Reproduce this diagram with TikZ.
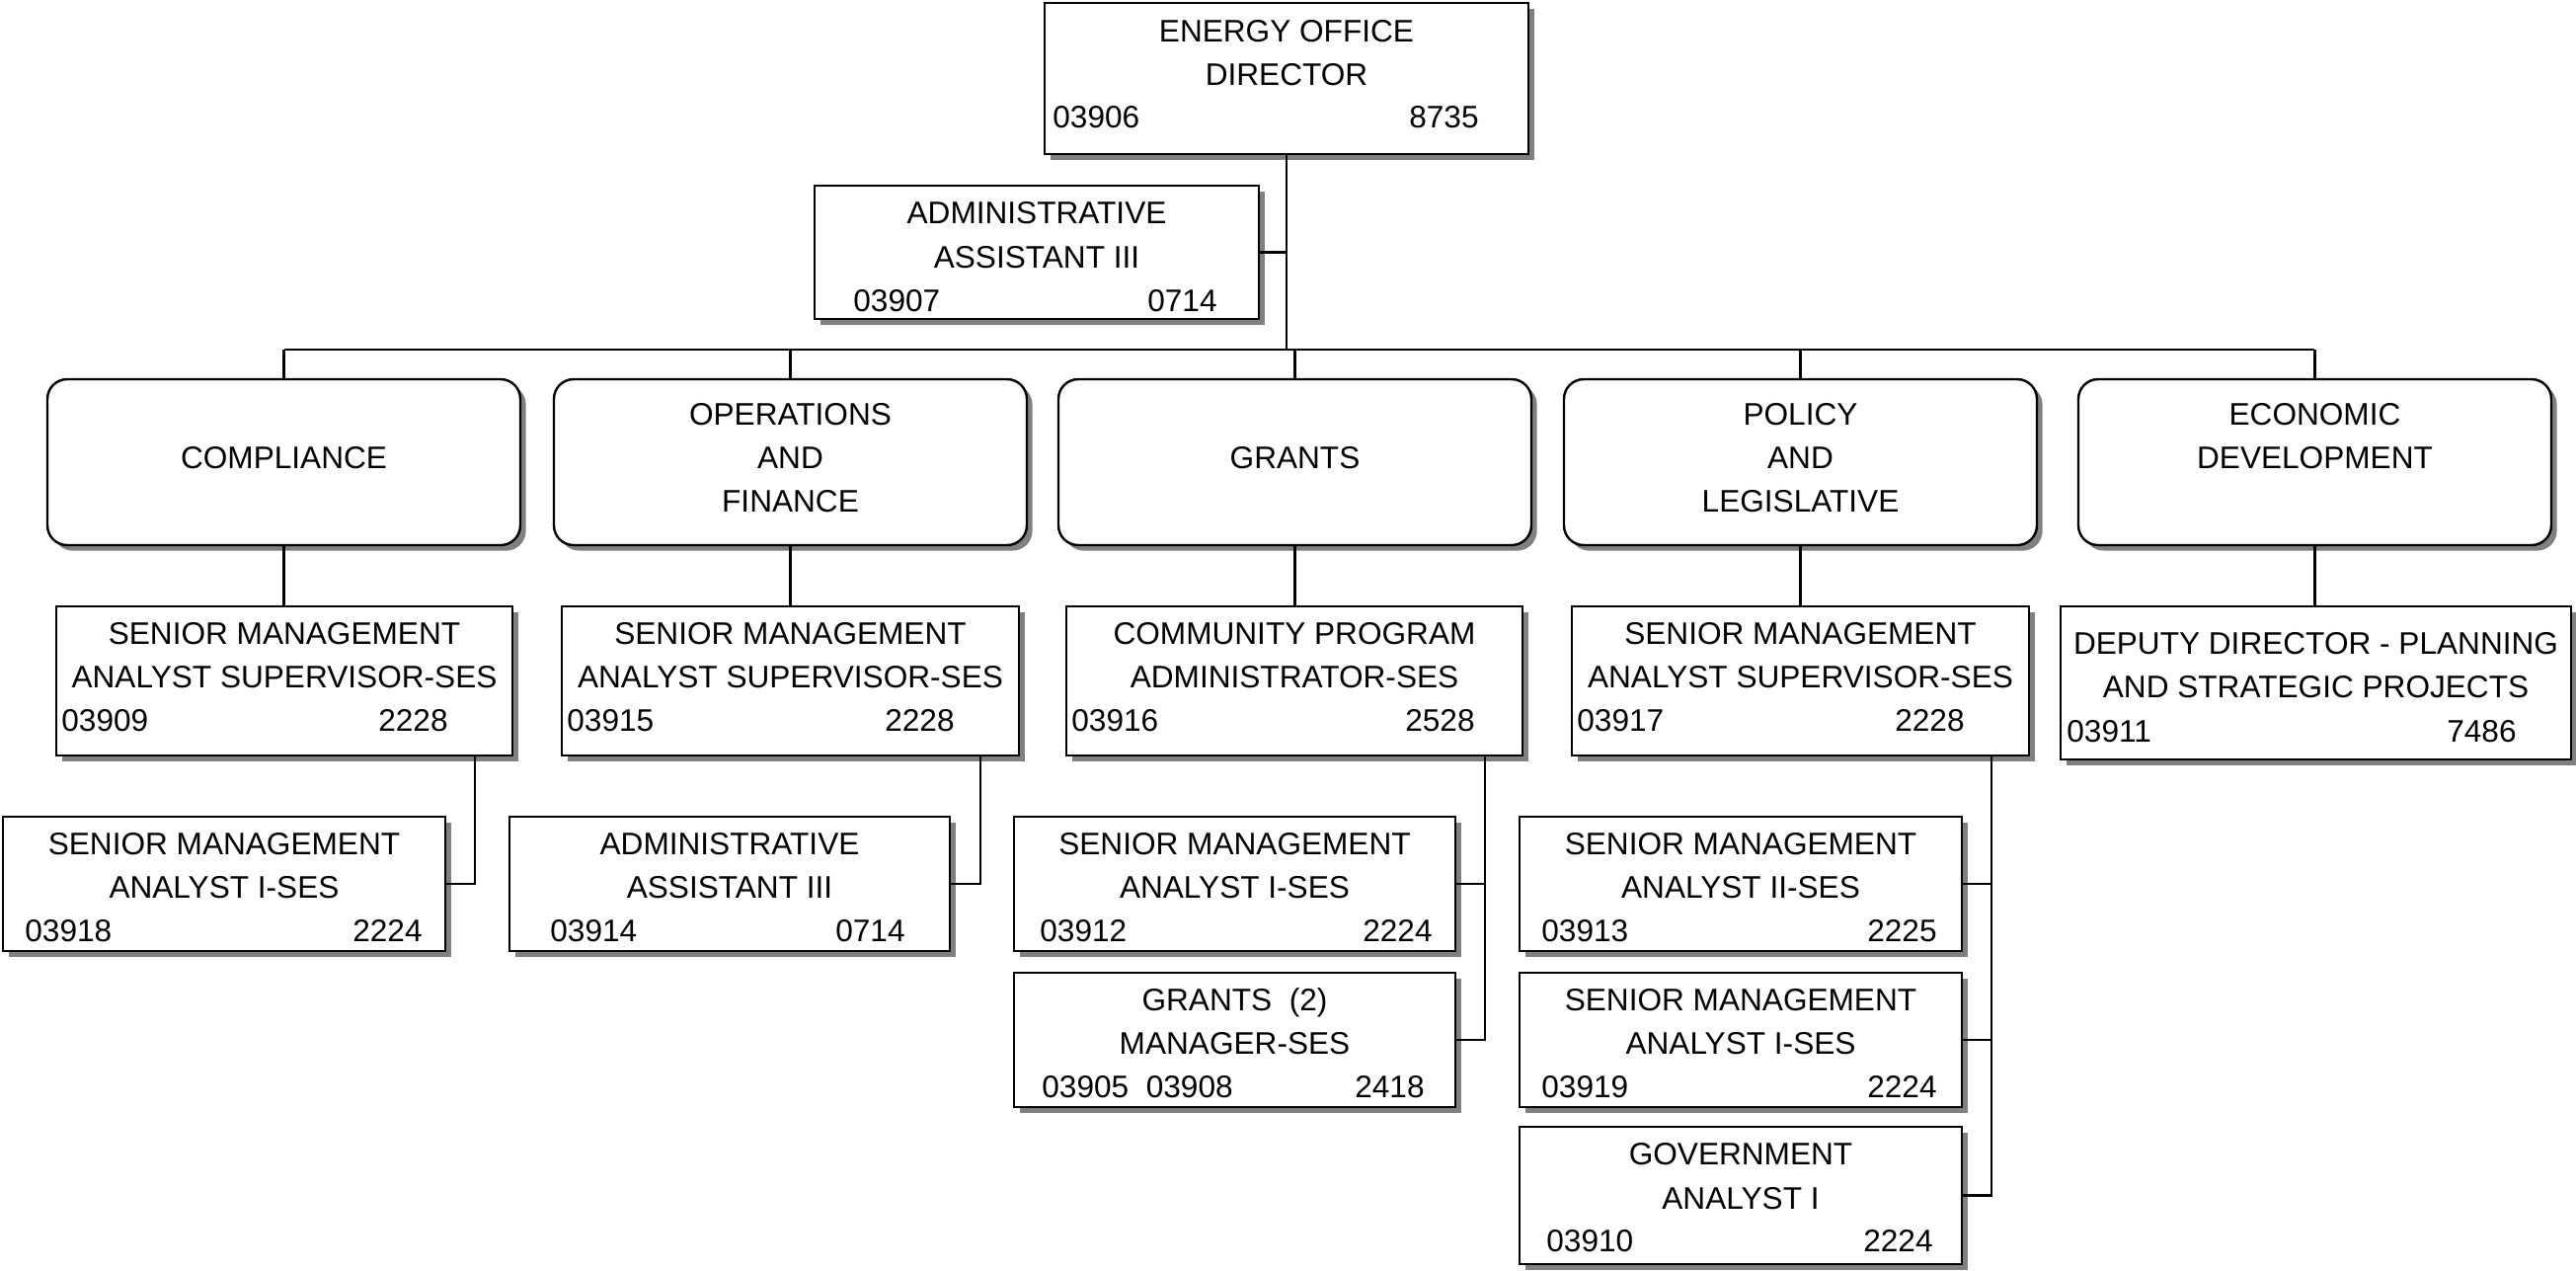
\documentclass[tikz,border=0pt]{standalone}
\usepackage{fontspec}
\setmainfont{Liberation Sans}
\usetikzlibrary{fit,shadows}

\tikzset{
  box/.style={draw, line width=1.2pt, fill=white, inner sep=0pt,
    drop shadow={shadow xshift=2.8pt, shadow yshift=-2.8pt, fill=black!50, opacity=1}},
  divbox/.style={box, rounded corners=10pt},
  conn/.style={line width=1.1pt},
  lbl/.style={inner sep=0pt, anchor=base, font=\fontsize{15.8}{19}\selectfont},
  numl/.style={lbl, anchor=base west},
  numr/.style={lbl, anchor=base east},
}

\begin{document}
\begin{tikzpicture}[x=0.5pt, y=-0.5pt]
\useasboundingbox (0,0) rectangle (2609,1286);

% ---------- boxes ----------
\node[box, fit={(1058,3) (1548,156)}] (dir) {};
\node[box, fit={(825,188) (1275,323)}] (adm) {};

\node[divbox, fit={(48,384) (527,552)}] (comp) {};
\node[divbox, fit={(561,384) (1040,552)}] (ops) {};
\node[divbox, fit={(1072,384) (1551,552)}] (grants) {};
\node[divbox, fit={(1584,384) (2063,552)}] (pol) {};
\node[divbox, fit={(2105,384) (2584,552)}] (econ) {};

\node[box, fit={(57,614) (519,765)}] (s09) {};
\node[box, fit={(569,614) (1032,765)}] (s15) {};
\node[box, fit={(1080,614) (1542,765)}] (cpa) {};
\node[box, fit={(1592,614) (2055,765)}] (s17) {};
\node[box, fit={(2087,614) (2604,769)}] (dep) {};

\node[box, fit={(3,827) (451,963)}] (s18) {};
\node[box, fit={(516,827) (962,963)}] (a14) {};
\node[box, fit={(1027,827) (1474,963)}] (s12) {};
\node[box, fit={(1027,985) (1474,1121)}] (gm) {};
\node[box, fit={(1539,827) (1987,963)}] (s13) {};
\node[box, fit={(1539,985) (1987,1121)}] (s19) {};
\node[box, fit={(1539,1141) (1987,1280)}] (ga) {};

% ---------- connectors ----------
\coordinate (busL) at (288,354);
\coordinate (busR) at (2344,354);
\draw[conn] (dir.south) -- (dir.south |- busL);
\draw[conn] (adm.east) -- (adm.east -| dir.south);
\draw[conn] (busL) -- (busR);
\foreach \d in {comp,ops,grants,pol,econ}{
  \draw[conn] (\d.north) -- (\d.north |- busL);
}
\draw[conn] (comp.south) -- (comp.south |- s09.north);
\draw[conn] (ops.south) -- (ops.south |- s15.north);
\draw[conn] (grants.south) -- (grants.south |- cpa.north);
\draw[conn] (pol.south) -- (pol.south |- s17.north);
\draw[conn] (econ.south) -- (econ.south |- dep.north);

\coordinate (j09) at (481,765);
\coordinate (j15) at (993,765);
\coordinate (jcpa) at (1504,765);
\coordinate (j17) at (2017,765);
\draw[conn] (j09) |- (s18.east);
\draw[conn] (j15) |- (a14.east);
\draw[conn] (jcpa) |- (gm.east);
\draw[conn] (s12.east) -- (s12.east -| jcpa);
\draw[conn] (j17) |- (ga.east);
\draw[conn] (s13.east) -- (s13.east -| j17);
\draw[conn] (s19.east) -- (s19.east -| j17);

% ---------- texts ----------
% director
\node[lbl] (dir-t1) at (1303,42) {ENERGY OFFICE};
\node[lbl] (dir-t2) at (1303,86) {DIRECTOR};
\node[numl] (dir-n1) at (1066,129) {03906};
\node[numr] (dir-n2) at (1498,129) {8735};
% administrative assistant (top)
\node[lbl] (adm-t1) at (1050,226) {ADMINISTRATIVE};
\node[lbl] (adm-t2) at (1050,271) {ASSISTANT III};
\node[numl] (adm-n1) at (864,315) {03907};
\node[numr] (adm-n2) at (1233,315) {0714};
% divisions
\node[lbl] (comp-t) at (287.5,474) {COMPLIANCE};
\node[lbl] (ops-t1) at (800.5,430) {OPERATIONS};
\node[lbl] (ops-t2) at (800.5,474) {AND};
\node[lbl] (ops-t3) at (800.5,518) {FINANCE};
\node[lbl] (grants-t) at (1311.5,474) {GRANTS};
\node[lbl] (pol-t1) at (1823.5,430) {POLICY};
\node[lbl] (pol-t2) at (1823.5,474) {AND};
\node[lbl] (pol-t3) at (1823.5,518) {LEGISLATIVE};
\node[lbl] (econ-t1) at (2344.5,430) {ECONOMIC};
\node[lbl] (econ-t2) at (2344.5,474) {DEVELOPMENT};
% second level
\node[lbl] (s09-t1) at (288,652) {SENIOR MANAGEMENT};
\node[lbl] (s09-t2) at (288,696) {ANALYST SUPERVISOR-SES};
\node[numl] (s09-n1) at (62,740) {03909};
\node[numr] (s09-n2) at (454,740) {2228};
\node[lbl] (s15-t1) at (800.5,652) {SENIOR MANAGEMENT};
\node[lbl] (s15-t2) at (800.5,696) {ANALYST SUPERVISOR-SES};
\node[numl] (s15-n1) at (574,740) {03915};
\node[numr] (s15-n2) at (967,740) {2228};
\node[lbl] (cpa-t1) at (1311,652) {COMMUNITY PROGRAM};
\node[lbl] (cpa-t2) at (1311,696) {ADMINISTRATOR-SES};
\node[numl] (cpa-n1) at (1085,740) {03916};
\node[numr] (cpa-n2) at (1494,740) {2528};
\node[lbl] (s17-t1) at (1823.5,652) {SENIOR MANAGEMENT};
\node[lbl] (s17-t2) at (1823.5,696) {ANALYST SUPERVISOR-SES};
\node[numl] (s17-n1) at (1597,740) {03917};
\node[numr] (s17-n2) at (1990,740) {2228};
\node[lbl] (dep-t1) at (2345.5,662) {DEPUTY DIRECTOR - PLANNING};
\node[lbl] (dep-t2) at (2345.5,706) {AND STRATEGIC PROJECTS};
\node[numl] (dep-n1) at (2093,751) {03911};
\node[numr] (dep-n2) at (2549,751) {7486};
% third level
\node[lbl] (s18-t1) at (227,865) {SENIOR MANAGEMENT};
\node[lbl] (s18-t2) at (227,909) {ANALYST I-SES};
\node[numl] (s18-n1) at (25,953) {03918};
\node[numr] (s18-n2) at (428,953) {2224};
\node[lbl] (a14-t1) at (739,865) {ADMINISTRATIVE};
\node[lbl] (a14-t2) at (739,909) {ASSISTANT III};
\node[numl] (a14-n1) at (557,953) {03914};
\node[numr] (a14-n2) at (917,953) {0714};
\node[lbl] (s12-t1) at (1250.5,865) {SENIOR MANAGEMENT};
\node[lbl] (s12-t2) at (1250.5,909) {ANALYST I-SES};
\node[numl] (s12-n1) at (1053,953) {03912};
\node[numr] (s12-n2) at (1451,953) {2224};
\node[lbl] (gm-t1) at (1250.5,1023) {GRANTS\ \ (2)};
\node[lbl] (gm-t2) at (1250.5,1067) {MANAGER-SES};
\node[numl] (gm-n1) at (1055,1111) {03905\ \ 03908};
\node[numr] (gm-n2) at (1443,1111) {2418};
\node[lbl] (s13-t1) at (1763,865) {SENIOR MANAGEMENT};
\node[lbl] (s13-t2) at (1763,909) {ANALYST II-SES};
\node[numl] (s13-n1) at (1561,953) {03913};
\node[numr] (s13-n2) at (1962,953) {2225};
\node[lbl] (s19-t1) at (1763,1023) {SENIOR MANAGEMENT};
\node[lbl] (s19-t2) at (1763,1067) {ANALYST I-SES};
\node[numl] (s19-n1) at (1561,1111) {03919};
\node[numr] (s19-n2) at (1962,1111) {2224};
\node[lbl] (ga-t1) at (1763,1179) {GOVERNMENT};
\node[lbl] (ga-t2) at (1763,1224) {ANALYST I};
\node[numl] (ga-n1) at (1566,1267) {03910};
\node[numr] (ga-n2) at (1958,1267) {2224};
\end{tikzpicture}
\end{document}
